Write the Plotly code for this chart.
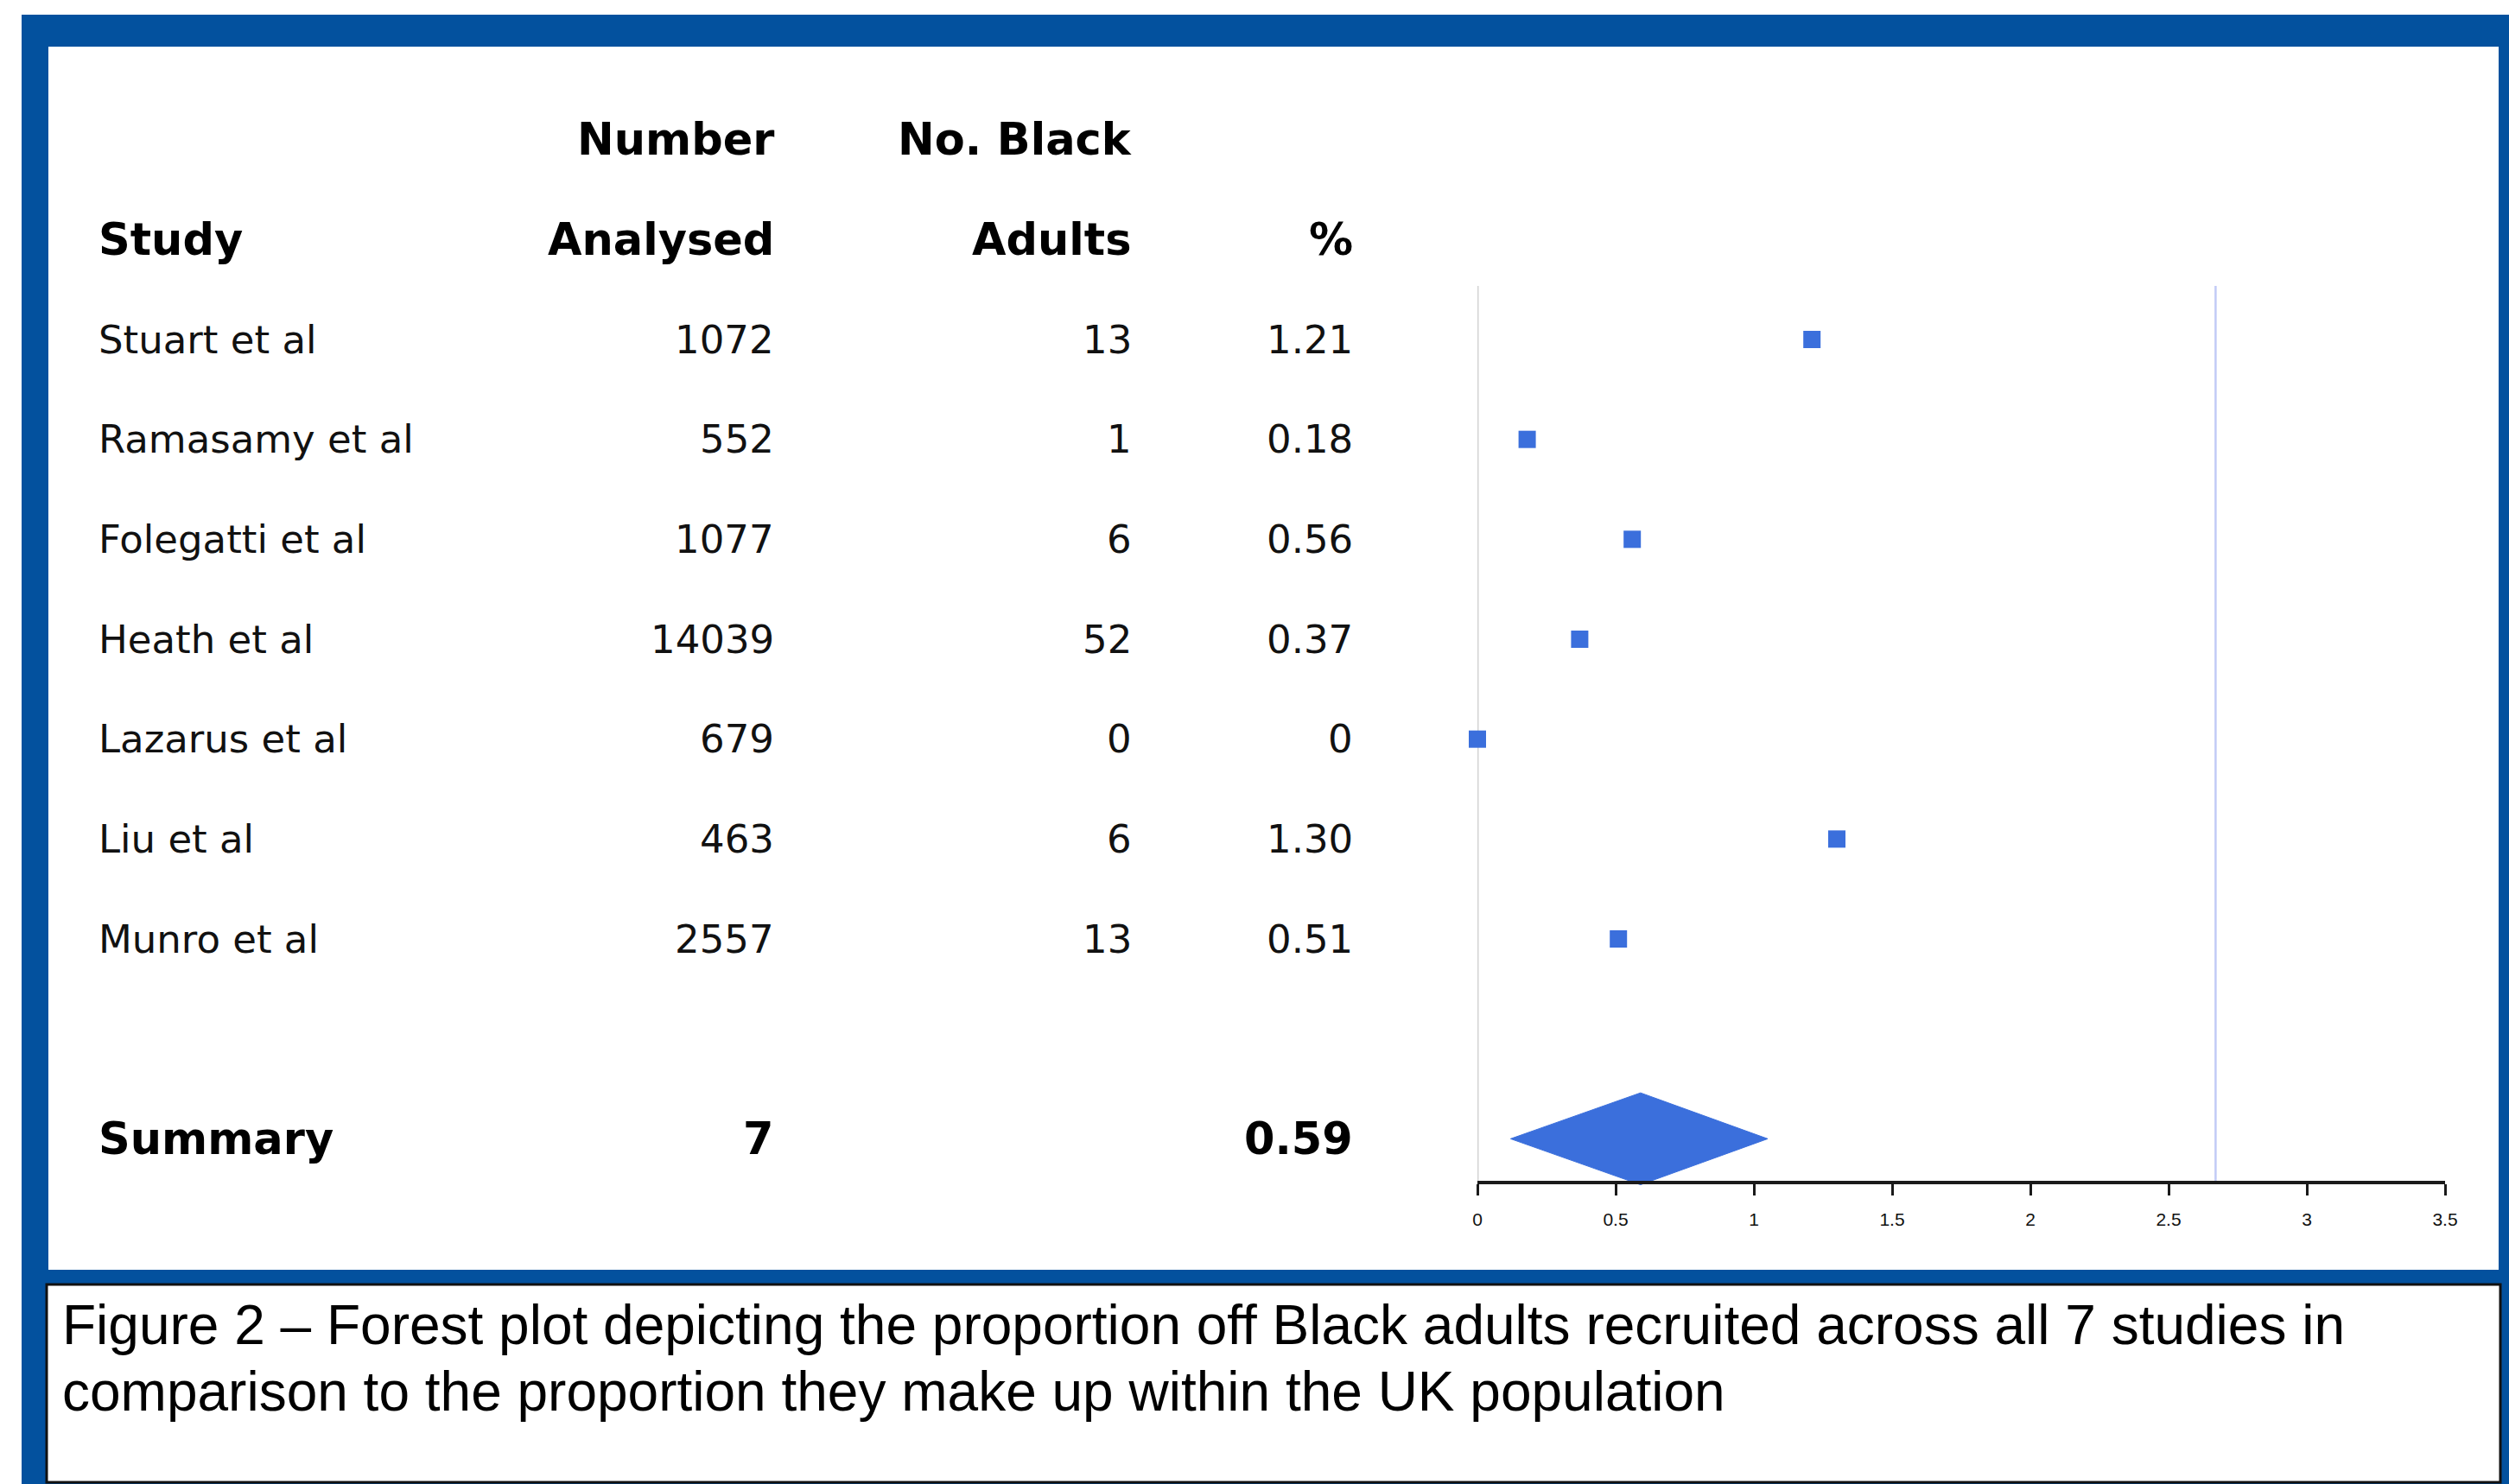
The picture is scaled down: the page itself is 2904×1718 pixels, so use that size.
import plotly.graph_objects as go

# ---------------- data ----------------
studies = ["Stuart et al", "Ramasamy et al", "Folegatti et al", "Heath et al",
           "Lazarus et al", "Liu et al", "Munro et al"]
number_analysed = [1072, 552, 1077, 14039, 679, 463, 2557]
no_black_adults = [13, 1, 6, 52, 0, 6, 13]
percent_labels = ["1.21", "0.18", "0.56", "0.37", "0", "1.30", "0.51"]
percent_values = [1.21, 0.18, 0.56, 0.37, 0.0, 1.30, 0.51]
summary_label = "Summary"
summary_n_studies = 7
summary_estimate = 0.59
summary_ci_low = 0.12
summary_ci_high = 1.05
uk_population_pct = 2.67
x_tick_values = [0, 0.5, 1, 1.5, 2, 2.5, 3, 3.5]
x_tick_labels = ["0", "0.5", "1", "1.5", "2", "2.5", "3", "3.5"]
caption_lines = [
    "Figure 2 \u2013 Forest plot depicting the proportion off Black adults recruited across all 7 studies in",
    "comparison to the proportion they make up within the UK population",
]

# ---------------- geometry helpers ----------------
W, H = 2904, 1718
ROW0_PX, ROW_STEP_PX = 393.0, 115.67


def px_x(p):
    return p / W


def px_y(p):
    return 1 - p / H


def row_of(p):
    return (p - ROW0_PX) / ROW_STEP_PX


BLUE = "#03519E"
MARK = "#3B6FDC"
TXT = "#111111"
FONT = "DejaVu Sans"

rows = list(range(len(studies)))
summary_row = len(studies) + 1

fig = go.Figure()

# vertical reference lines
line_top, line_bot = row_of(331), row_of(1369)
fig.add_trace(go.Scatter(x=[0, 0], y=[line_top, line_bot], mode="lines",
                         line=dict(color="#D3D3D3", width=3), hoverinfo="skip",
                         showlegend=False, cliponaxis=False))
fig.add_trace(go.Scatter(x=[uk_population_pct, uk_population_pct], y=[line_top, line_bot],
                         mode="lines", line=dict(color="#C2CBF6", width=2.5),
                         hoverinfo="skip", showlegend=False, cliponaxis=False))

# study point estimates
fig.add_trace(go.Scatter(x=percent_values, y=rows, mode="markers",
                         marker=dict(symbol="square", size=20, color=MARK,
                                     line=dict(width=0)),
                         showlegend=False, cliponaxis=False))

# summary diamond
half_h = 0.46
fig.add_trace(go.Scatter(
    x=[summary_ci_low, summary_estimate, summary_ci_high, summary_estimate, summary_ci_low],
    y=[summary_row, summary_row - half_h, summary_row, summary_row + half_h, summary_row],
    mode="lines", fill="toself", fillcolor=MARK, line=dict(color=MARK, width=1),
    showlegend=False, cliponaxis=False))

# ---------------- frame shapes ----------------
shapes = [
    dict(type="rect", xref="paper", yref="paper", x0=px_x(25), x1=px_x(2910),
         y0=px_y(1725), y1=px_y(17), fillcolor=BLUE, line=dict(width=0), layer="below"),
    dict(type="rect", xref="paper", yref="paper", x0=px_x(56), x1=px_x(2892),
         y0=px_y(1470), y1=px_y(54), fillcolor="white", line=dict(width=0), layer="below"),
    dict(type="rect", xref="paper", yref="paper", x0=px_x(54), x1=px_x(2894),
         y0=px_y(1716), y1=px_y(1487), fillcolor="white",
         line=dict(width=3, color="#111111"), layer="below"),
]

# ---------------- table text ----------------
ann = []
COL_STUDY, COL_N, COL_B, COL_P = 112, 898, 1312, 1568
YS = 0


def add_text(text, xpx, row, anchor, bold=False, size=45):
    ann.append(dict(text=f"<b>{text}</b>" if bold else text, x=px_x(xpx), y=row,
                    xref="paper", yref="y", xanchor=anchor, yanchor="middle",
                    showarrow=False, yshift=YS,
                    font=dict(family=FONT, size=size, color=TXT if not bold else "#000")))


# headers
add_text("Number", COL_N, -2, "right", True, 51)
add_text("No. Black", COL_B, -2, "right", True, 51)
add_text("Study", COL_STUDY, -1, "left", True, 51)
add_text("Analysed", COL_N, -1, "right", True, 51)
add_text("Adults", COL_B, -1, "right", True, 51)
add_text("%", COL_P, -1, "right", True, 51)

for r, s, n, b, p in zip(rows, studies, number_analysed, no_black_adults, percent_labels):
    add_text(s, COL_STUDY, r, "left")
    add_text(str(n), COL_N, r, "right")
    add_text(str(b), COL_B, r, "right")
    add_text(p, COL_P, r, "right")

add_text(summary_label, COL_STUDY, summary_row, "left", True, 51)
add_text(str(summary_n_studies), COL_N, summary_row, "right", True, 51)
add_text(f"{summary_estimate:.2f}", COL_P, summary_row, "right", True, 51)

# caption
for i, line in enumerate(caption_lines):
    ann.append(dict(text=line, x=px_x(70), y=px_y(1537 + 77 * i), xref="paper", yref="paper",
                    xanchor="left", yanchor="middle", showarrow=False, yshift=3,
                    font=dict(family="Liberation Sans, Arial", size=64, color="#000")))

fig.update_layout(
    width=W, height=H, margin=dict(l=0, r=0, t=0, b=0, pad=0, autoexpand=False),
    paper_bgcolor="white", plot_bgcolor="rgba(0,0,0,0)",
    shapes=shapes, annotations=ann, showlegend=False,
    xaxis=dict(domain=[px_x(1710), px_x(2830)], range=[0, 3.5], anchor="free",
               position=px_y(1369), showline=True, linecolor="#1a1a1a", linewidth=4,
               ticks="outside", ticklen=13, tickwidth=3, tickcolor="#1a1a1a",
               tickvals=x_tick_values, ticktext=x_tick_labels, ticklabelstandoff=10,
               tickfont=dict(family="Liberation Sans, Arial", size=21, color="#111"),
               showgrid=False, zeroline=False, fixedrange=True, automargin=False),
    yaxis=dict(domain=[0, 1], range=[row_of(H), row_of(0)], visible=False,
               showgrid=False, zeroline=False, fixedrange=True, automargin=False),
)

fig.write_html(
    "out.html",
    config={"displayModeBar": False, "staticPlot": True},
    post_script=("document.documentElement.style.margin='0';"
                 "document.body.style.margin='0';document.body.style.padding='0';"
                 "document.documentElement.style.overflow='hidden';"
                 "document.body.style.overflow='hidden';"),
)
